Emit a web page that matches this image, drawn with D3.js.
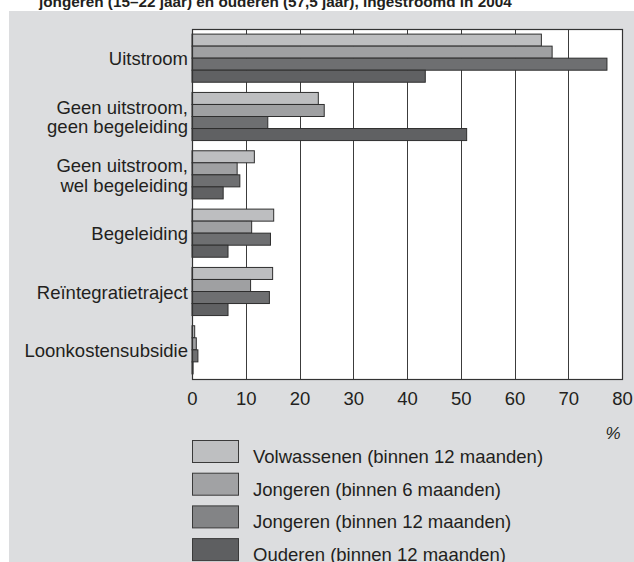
<!DOCTYPE html>
<html>
<head>
<meta charset="utf-8">
<script src="https://cdn.jsdelivr.net/npm/d3@7"></script>
<style>
    html, body { margin: 0; padding: 0; background: #fff; }
    svg { display: block; font-family: "Liberation Sans", Arial, sans-serif; }
</style>
</head>
<body>
<svg id="chart"></svg>
<script>
const categories = [
    ['Uitstroom'],
    ['Geen uitstroom,', 'geen begeleiding'],
    ['Geen uitstroom,', 'wel begeleiding'],
    ['Begeleiding'],
    ['Reïntegratietraject'],
    ['Loonkostensubsidie'],
]
const seriesNames = [
    'Volwassenen (binnen 12 maanden)',
    'Jongeren (binnen 6 maanden)',
    'Jongeren (binnen 12 maanden)',
    'Ouderen (binnen 12 maanden)',
]
// one array per series, in category order
const volwassenen12 = [65, 23.5, 11.6, 15.2, 15.0, 0.5]
const jongeren6 = [67, 24.6, 8.4, 11.1, 10.9, 0.8]
const jongeren12 = [77.2, 14.1, 8.9, 14.6, 14.4, 1.1]
const ouderen12 = [43.4, 51.1, 5.8, 6.7, 6.7, 0.2]
const xTicks = [0, 10, 20, 30, 40, 50, 60, 70, 80]
const title = 'jongeren (15–22 jaar) en ouderen (57,5 jaar), ingestroomd in 2004'

const WIDTH = 634
const HEIGHT = 562
const PLOT = { left: 192, right: 622, top: 29, bottom: 379 }
const BAR_COLORS = ['#bdbec0', '#9fa0a2', '#6e6f71', '#606163']
const LEGEND_COLORS = ['#bebfc1', '#a1a2a4', '#838486', '#5e5f61']
const INK = '#231f20'
const FONT = 18.5

const values = [volwassenen12, jongeren6, jongeren12, ouderen12]
const rows = categories.map((c, i) => ({
    key: c.join(' '),
    lines: c,
    vals: values.map(s => s[i]),
}))

const svg = d3.select('#chart')
    .attr('width', WIDTH)
    .attr('height', HEIGHT)
    .attr('viewBox', `0 0 ${WIDTH} ${HEIGHT}`)

// page background: clipped title on white, grey panel below
svg.append('text')
    .attr('x', 39)
    .attr('y', 7)
    .attr('font-size', 15.3)
    .attr('font-weight', 'bold')
    .attr('fill', INK)
    .text(title)

svg.append('rect')
    .attr('x', 9).attr('y', 11)
    .attr('width', WIDTH - 9).attr('height', HEIGHT - 11)
    .attr('fill', '#dcdddf')

const x = d3.scaleLinear().domain([0, 80]).range([PLOT.left, PLOT.right])
const y0 = d3.scaleBand()
    .domain(rows.map(d => d.key))
    .range([PLOT.top, PLOT.bottom])
    .paddingInner(0.175)
    .paddingOuter(0.0875)
const y1 = d3.scaleBand()
    .domain(d3.range(seriesNames.length))
    .range([0, y0.bandwidth()])

// plot area
svg.append('rect')
    .attr('x', PLOT.left).attr('y', PLOT.top)
    .attr('width', PLOT.right - PLOT.left).attr('height', PLOT.bottom - PLOT.top)
    .attr('fill', '#fff')

// vertical grid lines
svg.append('g')
    .selectAll('line')
    .data(xTicks.slice(1, -1))
    .join('line')
    .attr('x1', d => Math.round(x(d)) + 0.5)
    .attr('x2', d => Math.round(x(d)) + 0.5)
    .attr('y1', PLOT.top)
    .attr('y2', PLOT.bottom)
    .attr('stroke', '#3c3c3c')
    .attr('stroke-width', 1)

// bars
const groups = svg.append('g')
    .selectAll('g')
    .data(rows)
    .join('g')
    .attr('transform', d => `translate(0,${y0(d.key)})`)

groups.selectAll('rect')
    .data(d => d.vals.map((v, i) => ({ v, i })))
    .join('rect')
    .attr('x', x(0))
    .attr('y', d => y1(d.i))
    .attr('width', d => x(d.v) - x(0))
    .attr('height', y1.bandwidth())
    .attr('fill', d => BAR_COLORS[d.i])
    .attr('stroke', '#2e2e2e')
    .attr('stroke-width', 1)

// plot frame
svg.append('rect')
    .attr('x', PLOT.left + 0.5).attr('y', PLOT.top + 0.5)
    .attr('width', PLOT.right - PLOT.left).attr('height', PLOT.bottom - PLOT.top)
    .attr('fill', 'none')
    .attr('stroke', '#333')
    .attr('stroke-width', 1.2)

// category labels
const labels = svg.append('g')
    .attr('font-size', FONT)
    .attr('fill', INK)
    .attr('text-anchor', 'end')

rows.forEach(d => {
    const cy = y0(d.key) + y0.bandwidth() / 2
    const n = d.lines.length
    d.lines.forEach((line, j) => {
        labels.append('text')
            .attr('x', 188)
            .attr('y', cy + (j - (n - 1) / 2) * 19.5 + 7)
            .text(line)
    })
})

// x axis labels
const xAxis = d3.axisBottom(x).tickValues(xTicks).tickSize(0).tickPadding(13)
const xAxisGroup = svg.append('g')
    .attr('transform', `translate(0,${PLOT.bottom})`)
    .call(xAxis)
xAxisGroup.select('.domain').remove()
xAxisGroup.selectAll('text')
    .attr('font-size', FONT)
    .attr('font-family', '"Liberation Sans", Arial, sans-serif')
    .attr('fill', INK)

svg.append('text')
    .attr('x', 613)
    .attr('y', 439)
    .attr('text-anchor', 'middle')
    .attr('font-size', 17)
    .attr('font-style', 'italic')
    .attr('fill', INK)
    .text('%')

// legend
const legend = svg.append('g')
    .selectAll('g')
    .data(seriesNames)
    .join('g')
    .attr('transform', (d, i) => `translate(192,${440 + i * 32.7})`)

legend.append('rect')
    .attr('x', 0.5).attr('y', 0.5)
    .attr('width', 46).attr('height', 22)
    .attr('fill', (d, i) => LEGEND_COLORS[i])
    .attr('stroke', '#3a3a3a')

legend.append('text')
    .attr('x', 61)
    .attr('y', 23)
    .attr('font-size', FONT)
    .attr('fill', INK)
    .text(d => d)
</script>
</body>
</html>
